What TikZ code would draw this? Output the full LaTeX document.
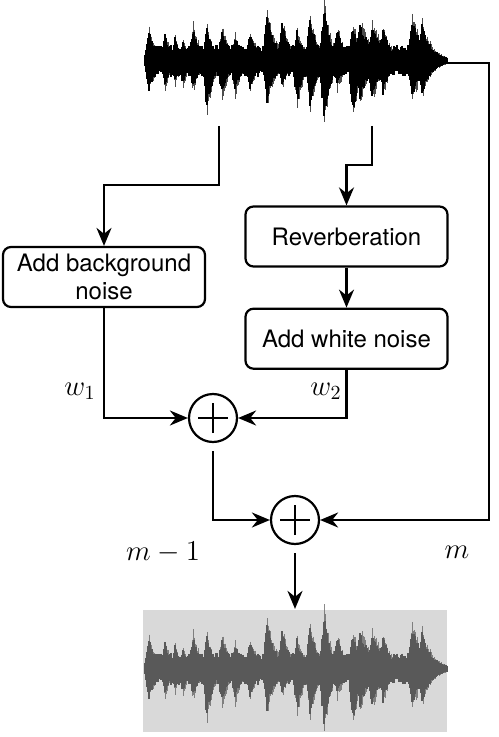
\documentclass[tikz,border=0pt]{standalone}
\usepackage{amsmath}
\usepackage{fontspec}
\newfontfamily\boxfont{TeX Gyre Heros}
\usepackage{tikz}
\usetikzlibrary{arrows.meta,positioning}

% speech signal, #1 = centre line, #2 = colour
\newcommand{\wavedraw}[2]{%
  \pgfmathsetseed{2718}%
  \begin{scope}[-, line width=0.7pt, color=#2]
    \foreach \x in {145,...,446} {
      \pgfmathsetmacro{\fade}{min(1,(\x-144)/6,(447-\x)/22)}
      \pgfmathsetmacro{\up}{\fade*(9+7*rnd)}
      \pgfmathsetmacro{\dn}{\fade*(9+7*rnd)}
      \draw (\x,#1-\up) -- (\x,#1+\dn);
    }
    \foreach \p/\ta/\ba/\dk in {149/32/33/7, 165/28/28/6, 175/24/24/6, 183/22/25/6,
        193/35/30/8, 207/35/52/7, 222/33/38/8, 235/27/33/8, 250/28/28/9,
        267/50/42/9, 282/42/27/8, 297/32/43/8, 310/45/48/8, 324/58/63/7,
        337/33/28/9, 353/40/58/6, 360/40/40/12, 372/40/38/12, 383/36/35/8,
        412/43/38/14, 422/40/35/10} {
      \pgfmathtruncatemacro{\kmax}{2.5*\dk}
      \foreach \k in {-4,...,\kmax} {
        \pgfmathsetmacro{\env}{\k<0 ? 1+(\k)/5 : exp(-(\k)/\dk)}
        \pgfmathsetmacro{\up}{\ta*\env*(0.72+0.28*rnd)}
        \pgfmathsetmacro{\dn}{\ba*\env*(0.72+0.28*rnd)}
        \pgfmathsetmacro{\uph}{\ta*\env*(0.8+0.35*rnd)}
        \pgfmathsetmacro{\dnh}{\ba*\env*(0.8+0.35*rnd)}
        \draw (\p+\k,#1-\up) -- (\p+\k,#1+\dn);
        \draw[line width=0.3pt, opacity=0.7] (\p+\k+0.5,#1-\uph) -- (\p+\k+0.5,#1+\dnh);
      }
    }
  \end{scope}}

\begin{document}
\begin{tikzpicture}[x=0.5pt, y=-0.5pt, line width=1.1pt, ->, >={Stealth[length=9pt,width=7.5pt]},
  proc/.style={draw, rounded corners=4pt, minimum width=101pt, minimum height=30pt, align=center, font=\boxfont\fontsize{12}{14}\selectfont},
  sum/.style={circle, draw, minimum size=24pt, inner sep=0pt,
    path picture={\draw[-] ([xshift=-7.5pt]path picture bounding box.center) -- ([xshift=7.5pt]path picture bounding box.center)
      ([yshift=-7.5pt]path picture bounding box.center) -- ([yshift=7.5pt]path picture bounding box.center);}},
  signal/.style={minimum width=152pt, minimum height=61pt, inner sep=0pt},
  lbl/.style={font=\Large}]
\useasboundingbox (0,0) rectangle (498,737);

\node[signal] (src) at (295,63) {}; % clean speech
\node[signal, fill=black!15] (out) at (295,671) {}; % mixture

\node[proc] (bg) at (104,277) {Add background\\noise};
\node[proc] (rev) at (346.5,236.5) {Reverberation};
\node[proc, below=20pt of rev] (white) {Add white noise};

\node[sum] (sum1) at (213,418) {};
\node[sum] (sum2) at (295,520) {};

\coordinate (tapA) at (219,126);
\coordinate (tapB) at (372,126);
\coordinate (rt) at (489,63);

\node[lbl] (w1) at (80,391) {$w_1$};
\node[lbl] (w2) at (326,391) {$w_2$};
\node[lbl] (mm1) at (163,552) {$m-1$};
\node[lbl] (m) at (457,552) {$m$};

\draw (tapA) -- ++(0,59) -| (bg);
\draw (tapB) -- ++(0,39) -| (rev);
\draw (rev) -- (white);
\draw (bg) |- (sum1);
\draw (white) |- (sum1);
\draw[shorten <=4pt] (sum1) |- (sum2);
\draw (src.east) -- (rt) |- (sum2);
\draw[shorten <=4pt] (sum2) -- (out);

\wavedraw{61}{black}
\wavedraw{669}{black!65}
\end{tikzpicture}
\end{document}
